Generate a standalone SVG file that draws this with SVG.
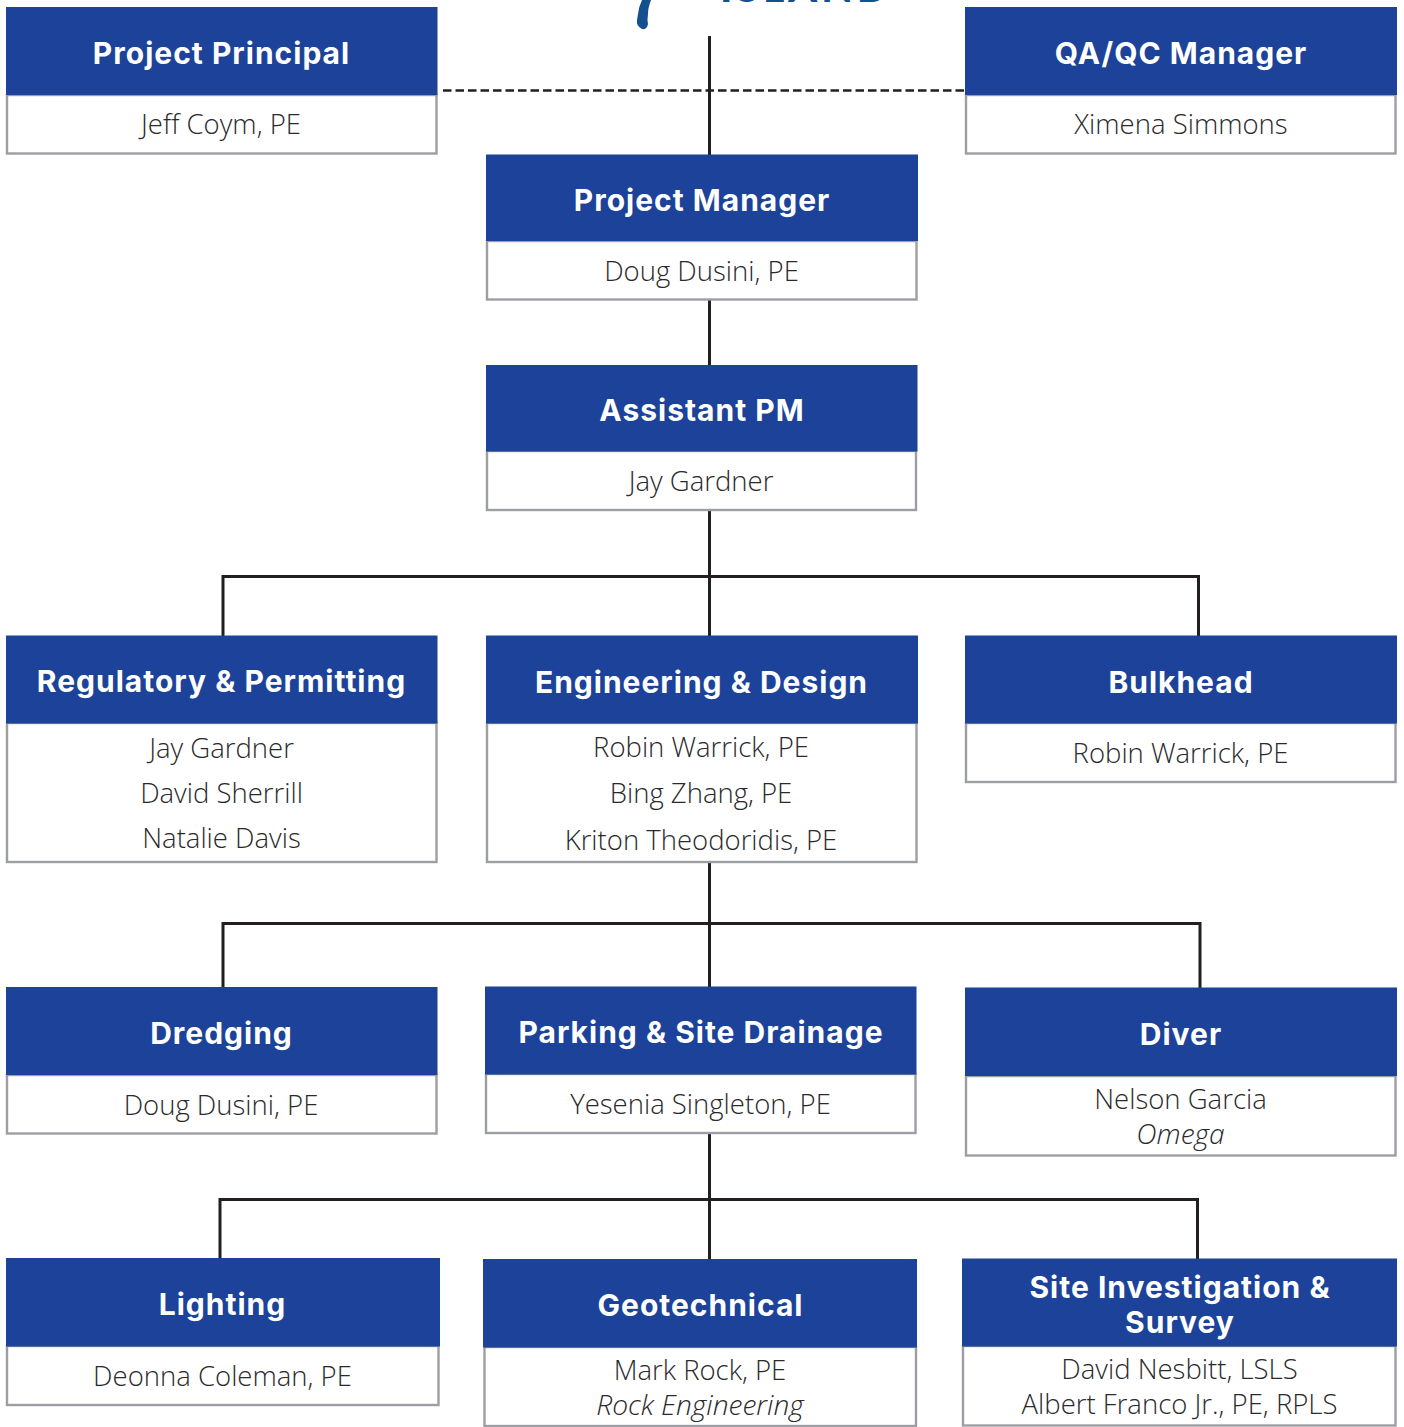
<svg xmlns="http://www.w3.org/2000/svg" width="1404" height="1427" viewBox="0 0 1404 1427">
<style>
.h{fill:#1c4399}
.b{fill:#fff;stroke:#9d9ea3;stroke-width:2.4}
.t{font-family:"Inter","Lato",sans-serif;font-weight:700;font-size:30px;letter-spacing:1px;fill:#fff;text-anchor:middle}
.n{font-family:"Open Sans","Noto Sans",sans-serif;font-weight:300;font-size:27.500px;fill:#2a2a2c;text-anchor:middle}
.i{font-style:italic;font-size:28.200px}
.c{fill:none;stroke:#231f20;stroke-width:3}
.d{fill:none;stroke:#231f20;stroke-width:2.6;stroke-dasharray:8.5 4}
</style>
<rect width="1404" height="1427" fill="#fff"/>
<g id="logo">
<path d="M638 14 Q639 6 642 0 L651 0 Q648 8 648 14 Q647 20 648 24 Q647 30 642 29 Q636 26 637 20Z" fill="#144f8f"/>
<text x="806" y="2" font-family="Lato,sans-serif" font-weight="900" font-size="41" letter-spacing="4" fill="#144f8f" text-anchor="middle">ISLAND</text>
</g>
<g id="connectors">
<path class="c" d="M709.500 36V155M709.500 300V366M709.500 511V636M223 636V576.500H1198.500V636M709.500 863V987M223 987V923.500H1200V988M709.500 1134V1260M220 1259V1199.500H1197.500V1259"/>
<path class="d" d="M443 90.500H966"/>
</g>
<g id="project-principal"><rect class="b" x="7" y="95" width="429.500" height="58.500"/><rect class="h" x="6" y="7" width="431.500" height="88"/><text class="t" x="221.500" y="64">Project Principal</text><text class="n" x="221" y="134">Jeff Coym, PE</text></g>
<g id="qa-qc-manager"><rect class="b" x="966" y="95" width="429.500" height="58.500"/><rect class="h" x="965" y="7" width="432" height="88"/><text class="t" x="1181" y="64">QA/QC Manager</text><text class="n" x="1181" y="134">Ximena Simmons</text></g>
<g id="project-manager"><rect class="b" x="487" y="241" width="429.500" height="58.500"/><rect class="h" x="486" y="154.500" width="432" height="86.500"/><text class="t" x="702" y="211">Project Manager</text><text class="n" x="701.500" y="281">Doug Dusini, PE</text></g>
<g id="assistant-pm"><rect class="b" x="487" y="451" width="429" height="59"/><rect class="h" x="486" y="365" width="431.500" height="86.500"/><text class="t" x="702" y="421">Assistant PM</text><text class="n" x="701" y="491">Jay Gardner</text></g>
<g id="regulatory-permitting"><rect class="b" x="7" y="723" width="429.500" height="139"/><rect class="h" x="6" y="635.500" width="431.500" height="88"/><text class="t" x="221.500" y="692">Regulatory &amp; Permitting</text><text class="n" x="221.500" y="758">Jay Gardner</text><text class="n" x="221.500" y="803">David Sherrill</text><text class="n" x="221.500" y="848">Natalie Davis</text></g>
<g id="engineering-design"><rect class="b" x="487" y="723" width="429.500" height="139"/><rect class="h" x="486" y="635.500" width="432" height="88"/><text class="t" x="701.500" y="693">Engineering &amp; Design</text><text class="n" x="701" y="757">Robin Warrick, PE</text><text class="n" x="701" y="803">Bing Zhang, PE</text><text class="n" x="701" y="850">Kriton Theodoridis, PE</text></g>
<g id="bulkhead"><rect class="b" x="966" y="723" width="429.500" height="59"/><rect class="h" x="965" y="635.500" width="432" height="88"/><text class="t" x="1181" y="693">Bulkhead</text><text class="n" x="1180.500" y="763">Robin Warrick, PE</text></g>
<g id="dredging"><rect class="b" x="7" y="1075" width="429.500" height="58.500"/><rect class="h" x="6" y="987" width="431.500" height="88"/><text class="t" x="221.500" y="1044">Dredging</text><text class="n" x="221" y="1115">Doug Dusini, PE</text></g>
<g id="parking-site-drainage"><rect class="b" x="486" y="1074" width="429.500" height="59"/><rect class="h" x="485" y="986.500" width="431.500" height="88"/><text class="t" x="701" y="1043">Parking &amp; Site Drainage</text><text class="n" x="700.500" y="1114">Yesenia Singleton, PE</text></g>
<g id="diver"><rect class="b" x="966" y="1076" width="429.500" height="79.500"/><rect class="h" x="965" y="987.500" width="432" height="88.500"/><text class="t" x="1181" y="1045">Diver</text><text class="n" x="1180.500" y="1109">Nelson Garcia</text><text class="n i" x="1180.500" y="1144">Omega</text></g>
<g id="lighting"><rect class="b" x="7" y="1346" width="431.500" height="59"/><rect class="h" x="6" y="1258" width="434" height="88.500"/><text class="t" x="222.500" y="1315">Lighting</text><text class="n" x="222.500" y="1386">Deonna Coleman, PE</text></g>
<g id="geotechnical"><rect class="b" x="484.500" y="1347" width="431.500" height="79"/><rect class="h" x="483" y="1259" width="434" height="88.500"/><text class="t" x="700.500" y="1316">Geotechnical</text><text class="n" x="700" y="1380">Mark Rock, PE</text><text class="n i" x="700" y="1415">Rock Engineering</text></g>
<g id="site-investigation-survey"><rect class="b" x="963" y="1346" width="432.500" height="79.500"/><rect class="h" x="962" y="1258.500" width="435" height="88"/><text class="t" x="1180" y="1298">Site Investigation &amp;</text><text class="t" x="1180" y="1333">Survey</text><text class="n" x="1179.500" y="1379">David Nesbitt, LSLS</text><text class="n" x="1179.500" y="1414">Albert Franco Jr., PE, RPLS</text></g>
</svg>
